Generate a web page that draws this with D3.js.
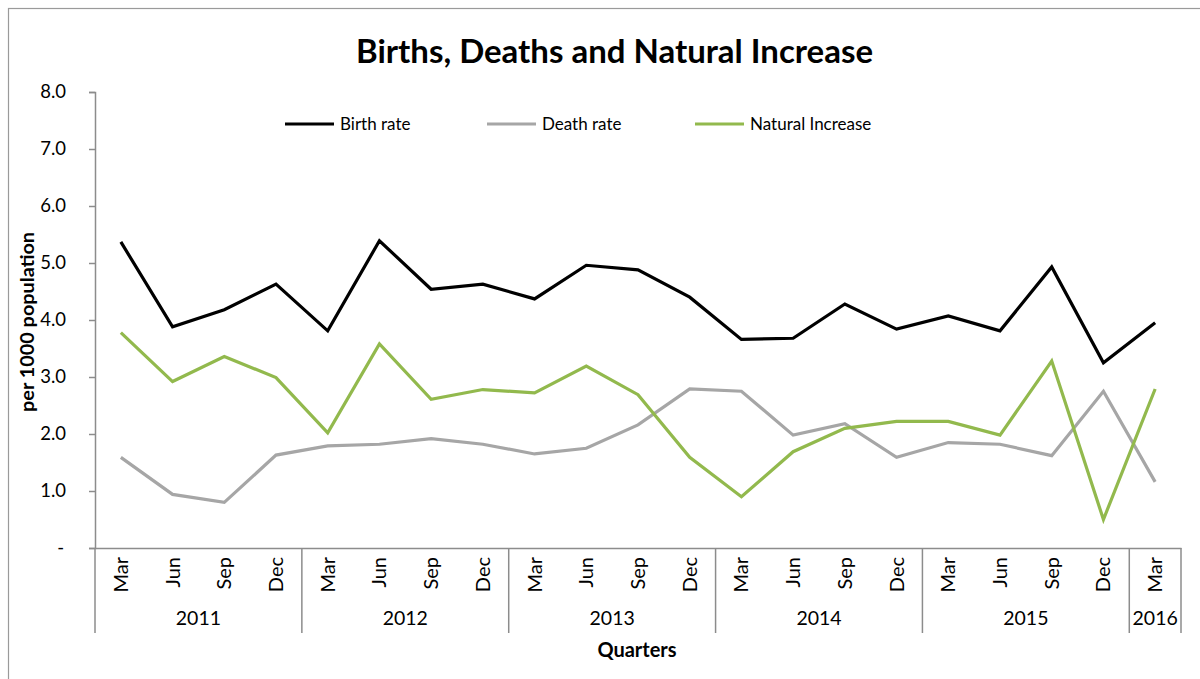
<!DOCTYPE html>
<html>
<head>
<meta charset="utf-8">
<script src="https://cdn.jsdelivr.net/npm/d3@7"></script>
<style>
  html, body { margin: 0; padding: 0; background: #fff; }
  svg { display: block; font-family: Lato, "Open Sans", sans-serif; }
</style>
</head>
<body>
<svg id="chart" width="1200" height="679"></svg>
<script>
// ---- Data ----
const quarters = ["Mar","Jun","Sep","Dec","Mar","Jun","Sep","Dec","Mar","Jun","Sep","Dec","Mar","Jun","Sep","Dec","Mar","Jun","Sep","Dec","Mar"];
const years = ["2011","2012","2013","2014","2015","2016"];
const quartersPerYear = [4,4,4,4,4,1];
const birthRate = [5.37,3.88,4.18,4.63,3.81,5.39,4.54,4.63,4.37,4.96,4.88,4.40,3.66,3.68,4.28,3.84,4.07,3.81,4.93,3.25,3.95];
const deathRate = [1.59,0.94,0.80,1.63,1.79,1.82,1.92,1.82,1.65,1.75,2.16,2.79,2.75,1.98,2.18,1.59,1.85,1.82,1.62,2.75,1.16];
const naturalIncrease = [3.78,2.92,3.36,2.99,2.02,3.58,2.61,2.78,2.72,3.19,2.69,1.59,0.90,1.69,2.10,2.22,2.22,1.98,3.28,0.50,2.79];
const yTicks = [0,1,2,3,4,5,6,7,8];
const seriesNames = ["Birth rate","Death rate","Natural Increase"];
const seriesColors = ["#000000","#A6A6A6","#92B94D"];

(function () {
// ---- Layout ----
const svg = d3.select("#chart");
const W = 1200, H = 679;
const mLeft = 95, mRight = 1181, mTop = 92, mBottom = 548;
const axisColor = "#8C8C8C";

// outer border
svg.append("rect").attr("x", 8.5).attr("y", 8.5).attr("width", W + 10).attr("height", H + 10)
  .attr("fill", "none").attr("stroke", "#9A9A9A").attr("stroke-width", 1.2);

const idx = d3.range(quarters.length);
const x = d3.scaleBand().domain(idx).range([mLeft, mRight]).paddingInner(0).paddingOuter(0);
const y = d3.scaleLinear().domain([0, 8]).range([mBottom, mTop]);
const cx = i => x(i) + x.bandwidth() / 2;

// title
svg.append("text").attr("x", 614.5).attr("y", 63).attr("text-anchor", "middle")
  .attr("font-size", 33).attr("font-weight", "bold").attr("fill", "#000")
  .attr("textLength", 517).attr("lengthAdjust", "spacingAndGlyphs")
  .text("Births, Deaths and Natural Increase");

// y axis
const yAxis = d3.axisLeft(y).tickValues(yTicks).tickSize(6).tickPadding(23)
  .tickFormat(d => d === 0 ? "-" : d3.format(".1f")(d));
const gy = svg.append("g").attr("transform", `translate(${mLeft},0)`).call(yAxis);
gy.select(".domain").attr("stroke", axisColor).attr("stroke-width", 1.5);
gy.selectAll(".tick line").attr("stroke", axisColor).attr("stroke-width", 1.5);
gy.selectAll(".tick text").attr("font-size", 18.5).attr("fill", "#000").attr("font-family", "Lato, sans-serif");
gy.selectAll(".tick text").filter(d => d === 0).attr("dx", -2);

// y axis title
svg.append("text").attr("transform", `translate(34,322) rotate(-90)`)
  .attr("text-anchor", "middle").attr("font-size", 19).attr("font-weight", "bold")
  .attr("textLength", 180).attr("lengthAdjust", "spacingAndGlyphs")
  .text("per 1000 population");

// x axis baseline
const gx = svg.append("g").attr("transform", `translate(0,${mBottom})`)
  .call(d3.axisBottom(x).tickSize(0).tickFormat(""));
gx.select(".domain").attr("stroke", axisColor).attr("stroke-width", 1.5);

// month labels
svg.append("g").selectAll("text").data(idx).join("text")
  .attr("transform", i => `translate(${cx(i) + 7},${mBottom + 9}) rotate(-90)`)
  .attr("text-anchor", "end").attr("font-size", 20).attr("fill", "#000")
  .text(i => quarters[i]);

// year dividers and labels
let acc = 0;
const boundaries = [0];
quartersPerYear.forEach(n => { acc += n; boundaries.push(acc); });
const bx = b => b < quarters.length ? x(b) : mRight;
svg.append("g").selectAll("line").data(boundaries).join("line")
  .attr("x1", bx).attr("x2", bx)
  .attr("y1", mBottom).attr("y2", 633)
  .attr("stroke", axisColor).attr("stroke-width", 1.5);
svg.append("g").selectAll("text").data(years).join("text")
  .attr("x", (d, k) => (bx(boundaries[k]) + bx(boundaries[k + 1])) / 2)
  .attr("y", 625).attr("text-anchor", "middle").attr("font-size", 19.5).attr("fill", "#000")
  .text(d => d);

// x axis title
svg.append("text").attr("x", 637).attr("y", 657).attr("text-anchor", "middle")
  .attr("font-size", 20).attr("font-weight", "bold").text("Quarters");

// lines
const line = d3.line().x((d, i) => cx(i)).y(d => y(d));
[birthRate, deathRate, naturalIncrease].forEach((s, k) => {
  svg.append("path").datum(s).attr("d", line).attr("fill", "none")
    .attr("stroke", seriesColors[k]).attr("stroke-width", 3.2)
    .attr("stroke-linejoin", "miter");
});

// legend
const legendX = [285, 487, 695];
const lg = svg.append("g");
seriesNames.forEach((n, k) => {
  lg.append("line").attr("x1", legendX[k]).attr("x2", legendX[k] + 49)
    .attr("y1", 124).attr("y2", 124).attr("stroke", seriesColors[k]).attr("stroke-width", 3.2);
  lg.append("text").attr("x", legendX[k] + 55).attr("y", 129.5)
    .attr("font-size", 17).attr("fill", "#000").text(n);
});
})();
</script>
</body>
</html>
